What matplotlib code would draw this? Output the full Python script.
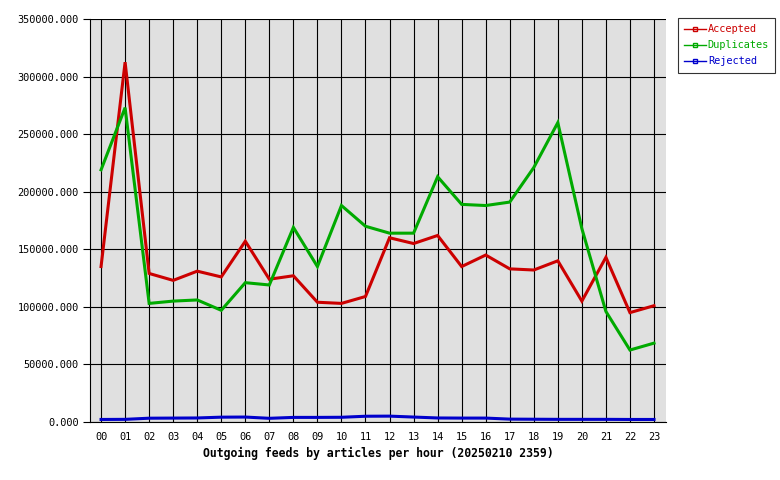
import matplotlib
matplotlib.use('Agg')
import matplotlib.pyplot as plt

hours = ['00', '01', '02', '03', '04', '05', '06', '07', '08', '09', '10', '11',
         '12', '13', '14', '15', '16', '17', '18', '19', '20', '21', '22', '23']
accepted = [135000, 312500, 129000, 123000, 131000, 126000, 157000, 124000,
            127000, 104000, 103000, 109000, 160000, 155000, 162000, 135000,
            145000, 133000, 132000, 140000, 105000, 143000, 95000, 101000]
duplicates = [219000, 273000, 103000, 105000, 106000, 97000, 121000, 119000,
              169000, 135000, 188000, 170000, 164000, 164000, 213000, 189000,
              188000, 191000, 221000, 260000, 168000, 96000, 62500, 68500]
rejected = [2200, 2300, 3300, 3400, 3500, 4200, 4300, 3200, 4000, 4000, 4100, 5000,
            5100, 4300, 3500, 3400, 3400, 2500, 2400, 2300, 2300, 2300, 2200, 2200]
yticks = [0, 50000, 100000, 150000, 200000, 250000, 300000, 350000]

series = [('Accepted', accepted, '#cc0000'),
          ('Duplicates', duplicates, '#00aa00'),
          ('Rejected', rejected, '#0000cc')]

plt.rcParams['font.family'] = 'DejaVu Sans Mono'

fig = plt.figure(figsize=(7.8, 4.8), dpi=100)
ax = fig.add_axes([90 / 780, 58 / 480, 576 / 780, 403 / 480])
ax.set_facecolor('#e0e0e0')

x = list(range(len(hours)))
for name, vals, col in series:
    ax.plot(x, vals, color=col, lw=2.2, solid_joinstyle='miter', zorder=3)

ax.set_xlim(-0.46, 23.5)
ax.set_ylim(0, 350000)
ax.set_yticks(yticks)
ax.set_yticklabels([f'{v}.000' for v in yticks], fontsize=7.4)
ax.set_xticks(x)
ax.set_xticklabels(hours, fontsize=7.4)
ax.tick_params(axis='x', length=0, pad=7)
ax.tick_params(axis='y', length=5, width=0.8, direction='out', pad=3)
ax.grid(True, color='black', lw=0.8, zorder=1)
ax.set_axisbelow(True)
for s in ['top', 'right']:
    ax.spines[s].set_visible(False)
for s in ['left', 'bottom']:
    ax.spines[s].set_linewidth(0.8)
ax.set_xlabel('Outgoing feeds by articles per hour (20250210 2359)',
              fontsize=8.3, fontweight='bold', labelpad=4)

# legend box on the right
handles = [plt.Line2D([], [], color=col, lw=1, marker='s', markersize=2.5,
                      markerfacecolor='none', markeredgecolor=col)
           for name, vals, col in series]
leg = fig.legend(handles, [s[0] for s in series], loc='upper left',
                 bbox_to_anchor=(678 / 780, 1 - 18 / 480), fontsize=7.4,
                 frameon=True, fancybox=False, handlelength=2.1,
                 handletextpad=0.2, borderpad=0.6, labelspacing=0.6,
                 borderaxespad=0)
leg.get_frame().set_edgecolor('black')
leg.get_frame().set_linewidth(0.8)
for txt, (name, vals, col) in zip(leg.get_texts(), series):
    txt.set_color(col)

fig.savefig('out.png', dpi=100)
